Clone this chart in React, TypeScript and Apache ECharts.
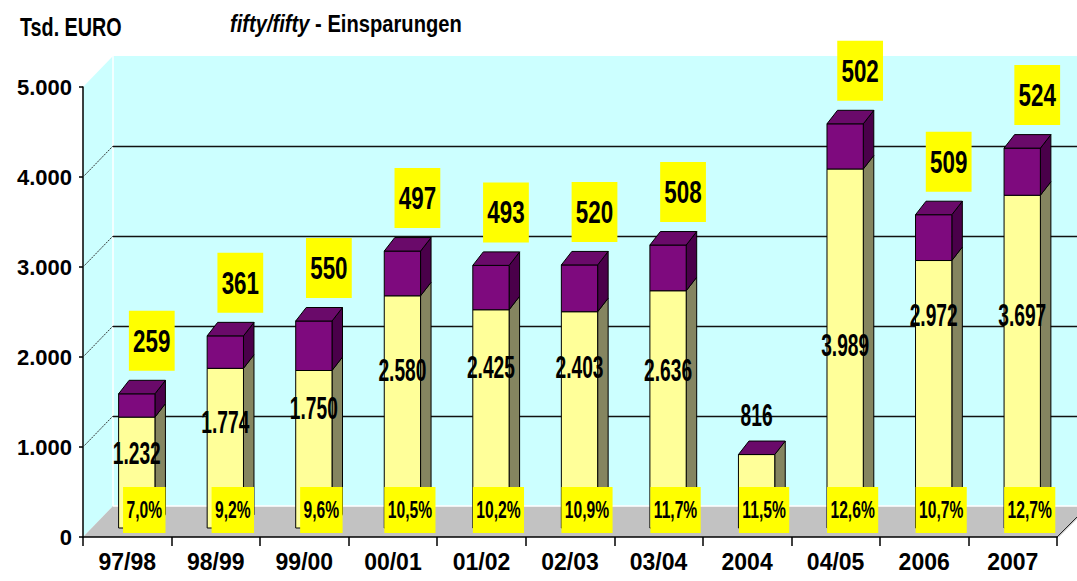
import React, { useEffect, useRef } from 'react';
import * as echarts from 'echarts';

// ---------- data ----------
const categories = ['97/98', '98/99', '99/00', '00/01', '01/02', '02/03', '03/04', '2004', '04/05', '2006', '2007'];
const baseSavings = [1232, 1774, 1750, 2580, 2425, 2403, 2636, 816, 3989, 2972, 3697];
const addedSavings = [259, 361, 550, 497, 493, 520, 508, 0, 502, 509, 524];
const shares = [7.0, 9.2, 9.6, 10.5, 10.2, 10.9, 11.7, 11.5, 12.6, 10.7, 12.7];
// value level (Tsd. EURO) where each base value label sits
const baseLabelLevels = [833, 1181, 1333, 1756, 1792, 1790, 1756, 1256, 2033, 2367, 2367];
const wallGridValues = [1000, 2000, 3000, 4000];
const Y_MIN = 0;
const Y_MAX = 5000;
const Y_STEP = 1000;

// ---------- style / layout ----------
const FONT = '"Liberation Sans", Arial, sans-serif';
const NARROW = '"Liberation Sans Narrow", "Liberation Sans", Arial, sans-serif';
const DEPTH_X = 30;
const DEPTH_Y = -31;
const BAR_SHIFT_X = 9.5;
const BAR_SHIFT_Y = -9;
const BAR_DX = 10.5;
const BAR_DY = -13.5;
const BAR_FRAC = 0.41;

const fmtThousands = (n: number) => String(n).replace(/\B(?=(\d{3})+(?!\d))/g, '.');
const fmtShare = (n: number) => n.toFixed(1).replace('.', ',') + '%';

function txt(x: number, y: number, text: string, font: string, scaleX: number, extra: any = {}) {
  return {
    type: 'text',
    x,
    y,
    scaleX,
    style: {
      text,
      font,
      fill: '#000',
      align: 'center',
      verticalAlign: 'middle',
      textAlign: 'center',
      textVerticalAlign: 'middle',
      ...extra,
    },
  };
}

export default function App() {
  const ref = useRef<HTMLDivElement>(null);

  useEffect(() => {
    const chart = echarts.init(ref.current!, null, { renderer: 'svg' });

    const barData = categories.map((_, i) => [i, baseSavings[i], addedSavings[i], shares[i], baseLabelLevels[i]]);

    const option: any = {
      animation: false,
      backgroundColor: '#ffffff',
      grid: [
        { left: 83, right: 20, top: 87, bottom: 44 },
        { left: 83 + DEPTH_X, right: 20 - DEPTH_X, top: 87 + DEPTH_Y, bottom: 44 - DEPTH_Y },
      ],
      xAxis: [
        {
          type: 'category',
          gridIndex: 0,
          data: categories,
          axisLine: { show: true, lineStyle: { color: '#000', width: 1.5 } },
          axisTick: { show: true, length: 9, alignWithLabel: false, lineStyle: { color: '#000', width: 1.5 } },
          axisLabel: { color: '#000', fontFamily: NARROW, fontWeight: 'bold', fontSize: 23, margin: 13 },
          splitLine: { show: false },
        },
        { type: 'category', gridIndex: 1, data: categories, show: false },
      ],
      yAxis: [
        {
          type: 'value',
          gridIndex: 0,
          min: Y_MIN,
          max: Y_MAX,
          interval: Y_STEP,
          axisLine: { show: true, lineStyle: { color: '#000', width: 1.5 } },
          axisTick: { show: true, length: 4, lineStyle: { color: '#000', width: 1.5 } },
          axisLabel: {
            color: '#000',
            fontFamily: FONT,
            fontWeight: 'bold',
            fontSize: 22,
            margin: 11,
            formatter: (v: number) => fmtThousands(v),
          },
          splitLine: { show: false },
        },
        {
          type: 'value',
          gridIndex: 1,
          min: Y_MIN,
          max: Y_MAX,
          interval: Y_STEP,
          axisLine: { show: false },
          axisTick: { show: false },
          axisLabel: { show: false },
          splitLine: {
            show: true,
            lineStyle: {
              color: ['rgba(0,0,0,0)', '#111', '#111', '#111', '#111', 'rgba(0,0,0,0)'],
              width: 1.3,
            },
          },
        },
      ],
      graphic: [
        // side wall
        {
          type: 'polygon',
          z: -10,
          shape: { points: [[83, 87], [113, 56], [113, 506], [83, 537]] },
          style: { fill: '#CCFFFF' },
        },
        // back wall
        { type: 'rect', z: -10, shape: { x: 113, y: 56, width: 1000, height: 450 }, style: { fill: '#CCFFFF' } },
        // floor
        {
          type: 'polygon',
          z: -10,
          shape: { points: [[83, 537], [113, 506], [1090, 506], [1059, 537]] },
          style: { fill: '#C2C2C2' },
        },
        { type: 'line', z: -9, shape: { x1: 113, y1: 56, x2: 113, y2: 506 }, style: { stroke: '#fff', lineWidth: 1.5 } },
        { type: 'line', z: -9, shape: { x1: 113, y1: 506, x2: 1077, y2: 506 }, style: { stroke: '#fff', lineWidth: 1.5 } },
        { type: 'line', z: -9, shape: { x1: 1057, y1: 537, x2: 1078, y2: 516 }, style: { stroke: '#222', lineWidth: 1 } },
        // titles
        {
          type: 'text',
          z: 10,
          x: 20,
          y: 28,
          scaleX: 0.79,
          style: {
            text: 'Tsd. EURO',
            font: `bold 25px ${FONT}`,
            fill: '#000',
            align: 'left',
            verticalAlign: 'middle',
            textAlign: 'left',
            textVerticalAlign: 'middle',
          },
        },
        {
          type: 'text',
          z: 10,
          x: 230,
          y: 24,
          scaleX: 0.84,
          style: {
            text: '{i|fifty/fifty}{n| - Einsparungen}',
            fill: '#000',
            align: 'left',
            verticalAlign: 'middle',
            textAlign: 'left',
            textVerticalAlign: 'middle',
            rich: {
              i: { fontFamily: FONT, fontSize: 24, fontWeight: 'bold', fontStyle: 'italic', fill: '#000' },
              n: { fontFamily: FONT, fontSize: 24, fontWeight: 'bold', fill: '#000' },
            },
          },
        },
      ],
      series: [
        {
          type: 'custom',
          name: 'wall grid',
          xAxisIndex: 0,
          yAxisIndex: 0,
          clip: false,
          silent: true,
          z: 1,
          data: wallGridValues.map((v) => [0, v]),
          encode: { x: 0, y: 1 },
          renderItem: (params: any, api: any) => {
            const p = api.coord([api.value(0), api.value(1)]);
            const band = api.size([1, 0])[0];
            const x = p[0] - band / 2;
            return {
              type: 'line',
              shape: { x1: x, y1: p[1], x2: x + DEPTH_X, y2: p[1] + DEPTH_Y },
              style: { stroke: '#333', lineWidth: 1, lineDash: [2, 1] },
            };
          },
        },
        {
          type: 'custom',
          name: 'Einsparungen',
          xAxisIndex: 0,
          yAxisIndex: 0,
          clip: false,
          z: 3,
          data: barData,
          encode: { x: 0, y: [1, 2] },
          renderItem: (params: any, api: any) => {
            const i = api.value(0);
            const base = api.value(1);
            const add = api.value(2);
            const share = api.value(3);
            const lvl = api.value(4);
            const p0 = api.coord([i, 0]);
            const band = api.size([1, 0])[0];
            const w = band * BAR_FRAC;
            const cx = p0[0] + BAR_SHIFT_X;
            const x0 = cx - w / 2;
            const x1 = cx + w / 2;
            const yb = p0[1] + BAR_SHIFT_Y;
            const yy = api.coord([i, base])[1] + BAR_SHIFT_Y;
            const yt = api.coord([i, base + add])[1] + BAR_SHIFT_Y;
            const stroke = '#000';
            const children: any[] = [];
            // yellow part
            children.push({
              type: 'polygon',
              shape: { points: [[x1, yb], [x1, yy], [x1 + BAR_DX, yy + BAR_DY], [x1 + BAR_DX, yb + BAR_DY]] },
              style: { fill: '#858560', stroke, lineWidth: 1 },
            });
            children.push({
              type: 'rect',
              shape: { x: x0, y: yy, width: w, height: yb - yy },
              style: { fill: '#FFFF99', stroke, lineWidth: 1 },
            });
            if (add > 0) {
              children.push({
                type: 'polygon',
                shape: { points: [[x1, yy], [x1, yt], [x1 + BAR_DX, yt + BAR_DY], [x1 + BAR_DX, yy + BAR_DY]] },
                style: { fill: '#4A004A', stroke, lineWidth: 1 },
              });
              children.push({
                type: 'rect',
                shape: { x: x0, y: yt, width: w, height: yy - yt },
                style: { fill: '#7E0A7E', stroke, lineWidth: 1 },
              });
            }
            children.push({
              type: 'polygon',
              shape: { points: [[x0, yt], [x1, yt], [x1 + BAR_DX, yt + BAR_DY], [x0 + BAR_DX, yt + BAR_DY]] },
              style: { fill: '#6A0A6A', stroke, lineWidth: 1 },
            });
            // base value label
            const ly = api.coord([i, lvl])[1] + BAR_SHIFT_Y;
            children.push(txt(cx, ly, fmtThousands(base), `bold 32px ${FONT}`, 0.6));
            // added value label
            if (add > 0) {
              children.push(
                txt(cx + 15, yt - 53, String(add), `bold 32px ${FONT}`, 0.7, {
                  backgroundColor: '#FFFF00',
                  padding: [14, 6],
                })
              );
            }
            // share label
            children.push(
              txt(p0[0] + 17, p0[1] - 27, fmtShare(share), `bold 23px ${FONT}`, 0.68, {
                backgroundColor: '#FFFF00',
                padding: [11.5, 5],
              })
            );
            return { type: 'group', children };
          },
        },
      ],
    };

    chart.setOption(option);
    return () => chart.dispose();
  }, []);

  return (
    <div
      ref={ref}
      style={{ position: 'fixed', left: 0, top: 0, width: 1077, height: 581, background: '#fff' }}
    />
  );
}
